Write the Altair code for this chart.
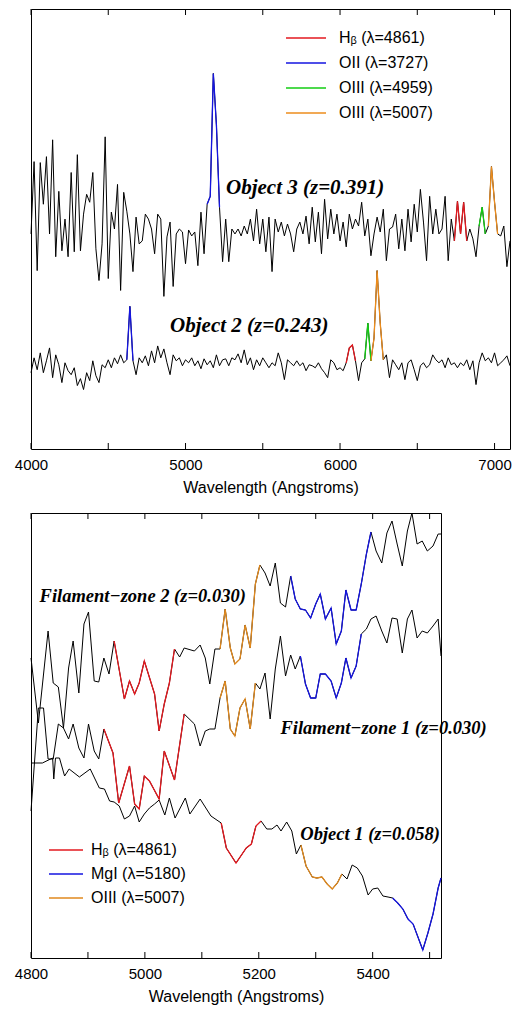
import altair as alt
import pandas as pd

# ---------------- TOP PANEL (observed spectra, 20 Å sampling) ----------------
top_wave = list(range(4000, 7101, 20))

obj3_flux = [
    217, 290, 180, 289, 247, 295, 217, 312, 194, 260,
    200, 232, 194, 279, 199, 297, 200, 237, 257, 249,
    279, 202, 170, 207, 315, 172, 239, 222, 267, 160,
    259, 240, 217, 179, 234, 207, 210, 237, 232, 222,
    197, 237, 232, 154, 214, 229, 164, 217, 222, 219,
    187, 221, 215, 219, 185, 239, 197, 247, 255, 379,
    327, 244, 189, 232, 189, 222, 217, 222, 215, 225,
    217, 232, 210, 242, 207, 232, 199, 234, 179, 232,
    219, 229, 215, 227, 217, 199, 222, 229, 217, 235,
    207, 244, 209, 239, 197, 252, 212, 242, 217, 237,
    210, 229, 204, 237, 222, 232, 225, 249, 215, 232,
    195, 217, 234, 219, 242, 190, 222, 224, 237, 202,
    232, 200, 242, 209, 247, 219, 262, 229, 190, 255,
    217, 242, 217, 222, 255, 190, 232, 210, 250, 217,
    249, 210, 222, 212, 194, 225, 244, 217, 225, 285,
    249, 217, 215, 225, 184, 210,
]

obj2_flux = [
    77, 92, 80, 97, 77, 89, 102, 72, 95, 85,
    67, 87, 79, 75, 82, 64, 71, 60, 77, 69,
    89, 74, 67, 85, 82, 90, 82, 92, 86, 95,
    87, 90, 144, 89, 75, 92, 87, 94, 84, 99,
    87, 104, 92, 101, 87, 75, 95, 89, 92, 84,
    90, 87, 92, 84, 89, 81, 91, 85, 89, 82,
    95, 84, 90, 91, 84, 92, 90, 96, 87, 100,
    85, 92, 80, 90, 84, 92, 87, 82, 87, 84,
    97, 87, 70, 90, 87, 84, 89, 84, 87, 79,
    85, 84, 82, 87, 81, 77, 72, 90, 87, 80,
    82, 79, 87, 102, 105, 89, 69, 87, 91, 127,
    89, 112, 180, 127, 90, 95, 72, 90, 85, 80,
    87, 70, 87, 90, 80, 69, 84, 87, 82, 85,
    95, 90, 87, 90, 82, 92, 85, 87, 82, 87,
    84, 90, 80, 89, 65, 87, 97, 89, 92, 87,
    97, 84, 87, 90, 94, 84,
]

top_lines = ["Hᵦ (λ=4861)", "OII (λ=3727)", "OIII (λ=4959)", "OIII (λ=5007)"]
top_colors = ["#e3191f", "#1515e0", "#12cc12", "#ec8c1c"]
# (series, line, first wavelength, last wavelength)
top_segments = [
    ("Object 3", "OII (λ=3727)", 5140, 5220),
    ("Object 3", "Hᵦ (λ=4861)", 6740, 6820),
    ("Object 3", "OIII (λ=4959)", 6900, 6940),
    ("Object 3", "OIII (λ=5007)", 6960, 7020),
    ("Object 2", "OII (λ=3727)", 4620, 4660),
    ("Object 2", "Hᵦ (λ=4861)", 6040, 6100),
    ("Object 2", "OIII (λ=4959)", 6160, 6200),
    ("Object 2", "OIII (λ=5007)", 6200, 6280),
]
top_ticks = [4000, 4500, 5000, 5500, 6000, 6500, 7000]
top_labels = ["Object 3 (z=0.391)", "Object 2 (z=0.243)"]
top_label_wave = [5262, 4900]
top_label_flux = [263, 124]

# ---------------- BOTTOM PANEL (rest-frame spectra) ----------------
fz2_wave = [4800, 4813, 4830, 4839, 4848, 4857, 4866, 4874, 4884, 4893,
            4901, 4911, 4919, 4928, 4937, 4946, 4964, 4973, 4982, 4990,
            4999, 5017, 5025, 5034, 5043, 5052, 5061, 5069, 5087, 5097,
            5106, 5114, 5123, 5132, 5141, 5150, 5158, 5167, 5176, 5185,
            5194, 5202, 5211, 5220, 5229, 5238, 5247, 5256, 5264, 5273,
            5282, 5291, 5300, 5308, 5317, 5327, 5336, 5345, 5353, 5362,
            5371, 5380, 5389, 5397, 5406, 5416, 5425, 5434, 5443, 5452,
            5461, 5469, 5478, 5487, 5496, 5506, 5515, 5520]
fz2_flux = [300, 235, 327, 275, 271, 230, 290, 317, 265, 334,
            346, 277, 276, 300, 284, 317, 259, 277, 264, 275,
            297, 264, 227, 254, 275, 309, 301, 310, 307, 313,
            300, 274, 309, 309, 349, 310, 294, 299, 333, 310,
            374, 393, 385, 372, 395, 355, 351, 382, 359, 349,
            348, 340, 354, 364, 339, 350, 314, 327, 368, 348,
            348, 374, 404, 426, 407, 395, 425, 437, 414, 392,
            427, 445, 414, 417, 407, 412, 424, 424]

fz1_wave = [4800, 4813, 4822, 4830, 4839, 4848, 4857, 4866, 4874, 4884,
            4893, 4901, 4911, 4919, 4928, 4944, 4954, 4973, 4982, 4990,
            4999, 5008, 5025, 5034, 5052, 5069, 5087, 5097, 5106, 5114,
            5123, 5132, 5141, 5150, 5158, 5167, 5176, 5185, 5194, 5202,
            5211, 5220, 5229, 5238, 5247, 5256, 5264, 5273, 5282, 5291,
            5300, 5308, 5317, 5327, 5336, 5345, 5353, 5362, 5371, 5380,
            5389, 5397, 5406, 5416, 5425, 5434, 5443, 5452, 5461, 5469,
            5478, 5487, 5496, 5506, 5515, 5520]
fz1_flux = [147, 250, 250, 199, 199, 234, 230, 219, 234, 210,
            200, 234, 207, 199, 229, 205, 155, 192, 154, 149,
            182, 177, 159, 207, 178, 244, 234, 212, 227, 229,
            229, 260, 277, 229, 222, 250, 259, 229, 275, 269,
            285, 239, 289, 322, 282, 303, 289, 302, 274, 260,
            260, 284, 284, 277, 260, 275, 300, 280, 292, 324,
            329, 339, 342, 327, 315, 340, 339, 305, 339, 348,
            320, 327, 325, 332, 339, 302]

obj1_wave = [4800, 4820, 4838, 4840, 4843, 4850, 4859, 4867, 4885, 4904,
             4920, 4929, 4938, 4946, 4955, 4964, 4973, 4982, 4990, 4999,
             5008, 5017, 5025, 5035, 5043, 5053, 5071, 5079, 5097, 5116,
             5134, 5143, 5160, 5178, 5187, 5195, 5204, 5214, 5223, 5232,
             5239, 5249, 5258, 5266, 5274, 5283, 5294, 5302, 5311, 5320,
             5329, 5338, 5346, 5355, 5364, 5373, 5382, 5392, 5400, 5409,
             5418, 5427, 5435, 5444, 5453, 5462, 5471, 5488, 5497, 5506,
             5515, 5520]
obj1_flux = [195, 195, 200, 179, 200, 200, 182, 189, 181, 189,
             170, 169, 157, 156, 152, 139, 142, 152, 136, 144,
             150, 154, 158, 143, 160, 140, 160, 144, 159, 142,
             135, 110, 95, 110, 114, 132, 137, 129, 129, 133,
             127, 136, 127, 104, 113, 92, 81, 80, 81, 74,
             69, 75, 84, 79, 93, 90, 82, 63, 69, 70,
             62, 61, 60, 55, 49, 39, 34, 8, 25, 44,
             70, 80]

bot_lines = ["Hᵦ (λ=4861)", "MgI (λ=5180)", "OIII (λ=5007)"]
bot_colors = ["#e3191f", "#1515e0", "#e0891e"]
bot_segments = [
    ("Filament-zone 2", "Hᵦ (λ=4861)", 4946, 5052),
    ("Filament-zone 2", "OIII (λ=5007)", 5132, 5202),
    ("Filament-zone 2", "MgI (λ=5180)", 5256, 5397),
    ("Filament-zone 1", "Hᵦ (λ=4861)", 4928, 5069),
    ("Filament-zone 1", "OIII (λ=5007)", 5132, 5194),
    ("Filament-zone 1", "MgI (λ=5180)", 5273, 5380),
    ("Object 1", "Hᵦ (λ=4861)", 5134, 5204),
    ("Object 1", "OIII (λ=5007)", 5274, 5346),
    ("Object 1", "MgI (λ=5180)", 5435, 5520),
]
bot_ticks = [4800, 4900, 5000, 5100, 5200, 5300, 5400, 5500]
bot_labels = ["Filament−zone 2 (z=0.030)", "Filament−zone 1 (z=0.030)", "Object 1 (z=0.058)"]
bot_label_wave = [4815, 5238, 5273]
bot_label_flux = [362, 230, 124]


def spectra_frame(series):
    rows = []
    for name, waves, fluxes in series:
        for w, f in zip(waves, fluxes):
            rows.append({"series": name, "wave": w, "flux": f})
    return pd.DataFrame(rows)


def segment_frame(df, segments):
    parts = []
    for k, (name, line, lo, hi) in enumerate(segments):
        sub = df[(df.series == name) & (df.wave >= lo) & (df.wave <= hi)].copy()
        sub["line"] = line
        sub["seg"] = k
        parts.append(sub)
    return pd.concat(parts, ignore_index=True)


def panel(df, segs, domain_x, domain_y, ticks, label_vals, lines, colors,
          labels, lab_w, lab_f, lab_size, width, height, leg_x, leg_y,
          sym_path, lab_off, row_pad):
    xscale = alt.Scale(domain=domain_x, nice=False, zero=False)
    yscale = alt.Scale(domain=domain_y, nice=False, zero=False)
    x_enc = alt.X("wave:Q", scale=xscale,
                  axis=alt.Axis(values=label_vals, format="d", labelFlush=False,
                                labelOverlap=False,
                                title="Wavelength (Angstroms)"))
    black = alt.Chart(df).mark_line(color="black", strokeWidth=1).encode(
        x=x_enc, y=alt.Y("flux:Q", scale=yscale, axis=None),
        detail="series:N", order="wave:Q")
    colored = alt.Chart(segs).mark_line(strokeWidth=1.3).encode(
        x="wave:Q", y="flux:Q", detail="seg:N", order="wave:Q",
        color=alt.Color("line:N",
                        scale=alt.Scale(domain=lines, range=colors),
                        sort=lines,
                        legend=alt.Legend(title=None, orient="none",
                                          legendX=leg_x, legendY=leg_y,
                                          symbolType=sym_path, symbolSize=100,
                                          symbolStrokeWidth=1.5,
                                          labelFont="Liberation Sans",
                                          labelFontSize=16, labelColor="black",
                                          labelOffset=lab_off, rowPadding=row_pad)))
    tick_df = pd.DataFrame({"wave": ticks})
    tb = alt.Chart(tick_df).mark_rule(color="black", strokeWidth=1).encode(
        x="wave:Q", y=alt.value(height), y2=alt.value(height - 6))
    tt = alt.Chart(tick_df).mark_rule(color="black", strokeWidth=1).encode(
        x="wave:Q", y=alt.value(0), y2=alt.value(6))
    txt_df = pd.DataFrame({"label": labels, "wave": lab_w, "flux": lab_f})
    txt = alt.Chart(txt_df).mark_text(
        align="left", baseline="middle", font="Liberation Serif",
        fontStyle="italic", fontWeight="bold", fontSize=lab_size, color="black"
    ).encode(x="wave:Q", y="flux:Q", text="label:N")
    return alt.layer(black, colored, tb, tt, txt).properties(width=width, height=height)


top_df = spectra_frame([("Object 3", top_wave, obj3_flux),
                        ("Object 2", top_wave, obj2_flux)])
top_segs = segment_frame(top_df, top_segments)
bot_df = spectra_frame([("Filament-zone 2", fz2_wave, fz2_flux),
                        ("Filament-zone 1", fz1_wave, fz1_flux),
                        ("Object 1", obj1_wave, obj1_flux)])
bot_segs = segment_frame(bot_df, bot_segments)

top = panel(top_df, top_segs, [4000, 7100], [0, 444], top_ticks,
            [4000, 5000, 6000, 7000], top_lines, top_colors,
            top_labels, top_label_wave, top_label_flux, 21, 479, 440, 267, 21,
            "M-4,0H4", 25, 9)
bottom = panel(bot_df, bot_segs, [4800, 5520], [0, 445], bot_ticks,
               [4800, 5000, 5200, 5400], bot_lines, bot_colors,
               bot_labels, bot_label_wave, bot_label_flux, 18.5, 410, 445, 27, 329,
               "M-3.4,0H3.4", 17, 8)

chart = alt.vconcat(top, bottom, spacing=14).resolve_scale(
    color="independent").resolve_legend(color="independent").properties(
    padding={"left": 5, "top": 0, "right": 5, "bottom": 0}
).configure_view(stroke="black", strokeWidth=1).configure_axis(
    labelFont="Liberation Sans", labelFontSize=15, labelColor="black",
    titleFont="Liberation Sans", titleFontSize=16, titleFontWeight="normal",
    titleColor="black", ticks=False, domain=False, grid=False,
    labelPadding=8, titlePadding=7)

chart.save("out.html", embed_options={"renderer": "svg", "actions": False})
